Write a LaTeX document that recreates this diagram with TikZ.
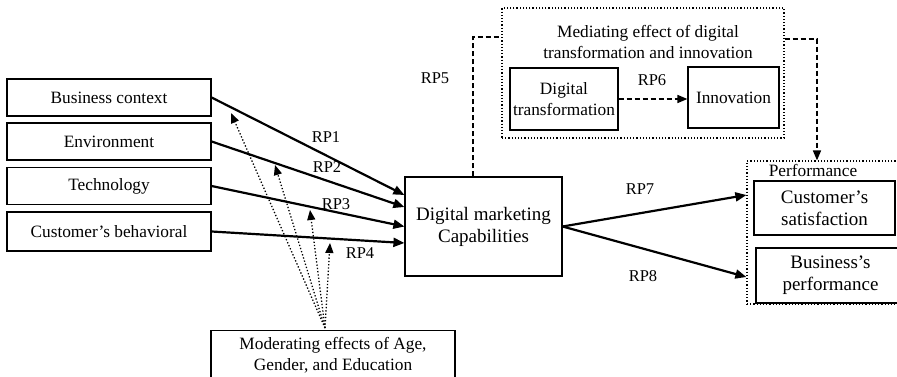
\documentclass[tikz,border=0pt]{standalone}
\usepackage{fontspec}
\setmainfont{Liberation Serif}
\usetikzlibrary{arrows.meta}
\begin{document}
\begin{tikzpicture}[x=1pt,y=-1pt,
  box/.style={draw, line width=1.2pt, align=center, inner sep=2pt, font=\fontsize{17.3}{21}\selectfont},
  bigbox/.style={box, font=\fontsize{19}{22}\selectfont},
  dotbox/.style={draw, dotted, line width=1.2pt},
  txt/.style={align=center, inner sep=0pt, font=\fontsize{17.3}{21}\selectfont},
  lbl/.style={inner sep=0pt, font=\fontsize{16.5}{20}\selectfont},
  solidarr/.style={line width=2.2pt, -{Triangle[length=11pt,width=9pt]}},
  dasharr/.style={line width=1.6pt, dash pattern=on 5pt off 3pt},
  dotarr/.style={line width=1.3pt, dotted, -{Triangle[length=10pt,width=8pt]}},
]
\clip (0,0) rectangle (897,377);
\fill[white] (0,0) rectangle (897,377);

% left boxes
\node[box, minimum width=204, minimum height=37] (bc)   at (109,97.5)  {Business context};
\node[box, minimum width=204, minimum height=37] (env)  at (109,141.5) {Environment};
\node[box, minimum width=204, minimum height=37] (tech) at (109,186)   {Technology};
\node[box, minimum width=204, minimum height=39] (cb)   at (109,231.5) {Customer’s behavioral};

% central box
\node[bigbox, minimum width=157, minimum height=99] (dmc) at (483.5,226.5) {Digital marketing\\Capabilities};

% mediating group
\node[dotbox, minimum width=282, minimum height=130] (med) at (643,73) {};
\node[txt] (medt) at (648,42) {Mediating effect of digital\\transformation and innovation};
\node[box, minimum width=108, minimum height=62] (dt) at (564,99) {Digital\\transformation};
\node[box, minimum width=91, minimum height=61] (inn) at (733.5,97.5) {Innovation};

% performance group
\node[dotbox, minimum width=158, minimum height=143] (perf) at (826,232.5) {};
\node[txt] (perft) at (813,170) {Performance};
\node[bigbox, minimum width=141, minimum height=54] (cs) at (824.5,208) {Customer’s\\satisfaction};
\node[bigbox, minimum width=149, minimum height=55] (bp) at (830.5,275.5) {Business’s\\performance};

% moderating box
\node[box, anchor=north, minimum width=244, inner ysep=7pt] (mod) at (333,330) {Moderating effects of Age,\\Gender, and Education};

% solid arrows
\draw[solidarr] (bc.east)   -- ([yshift=31.5pt]dmc.west);
\draw[solidarr] (env.east)  -- ([yshift=19.5pt]dmc.west);
\draw[solidarr] (tech.east) -- (dmc.west);
\draw[solidarr] (cb.east)   -- ([yshift=-16.5pt]dmc.west);
\draw[solidarr] (dmc.east)  -- ([yshift=37.5pt]perf.west);
\draw[solidarr] (dmc.east)  -- ([yshift=-44.5pt]perf.west);

% dashed connectors
\draw[dasharr] ([xshift=-10.5pt]dmc.north) |- ([yshift=36pt]med.west);
\draw[dasharr, -{Triangle[length=10pt,width=8pt]}] ([yshift=34pt]med.east) -| ([xshift=-9pt]perf.north);
\draw[dasharr, -{Triangle[length=10pt,width=8pt]}] (dt.east) -- (dt.east -| inn.west);

% moderating dotted arrows
\coordinate (m1) at (231,113);
\coordinate (m2) at (275,165);
\coordinate (m3) at (310,210);
\coordinate (m4) at (330,243);
\coordinate (ms) at ([xshift=-8pt,yshift=2pt]mod.north);
\draw[dotarr] (ms) -- (m1);
\draw[dotarr] (ms) -- (m2);
\draw[dotarr] (ms) -- (m3);
\draw[dotarr] (ms) -- (m4);

% labels
\node[lbl] (rp1) at (326,137) {RP1};
\node[lbl] (rp2) at (327,167) {RP2};
\node[lbl] (rp3) at (336,204) {RP3};
\node[lbl] (rp4) at (360,253) {RP4};
\node[lbl] (rp5) at (435,78)  {RP5};
\node[lbl] (rp6) at (652,80)  {RP6};
\node[lbl] (rp7) at (640,189) {RP7};
\node[lbl] (rp8) at (643,276) {RP8};
\end{tikzpicture}
\end{document}
